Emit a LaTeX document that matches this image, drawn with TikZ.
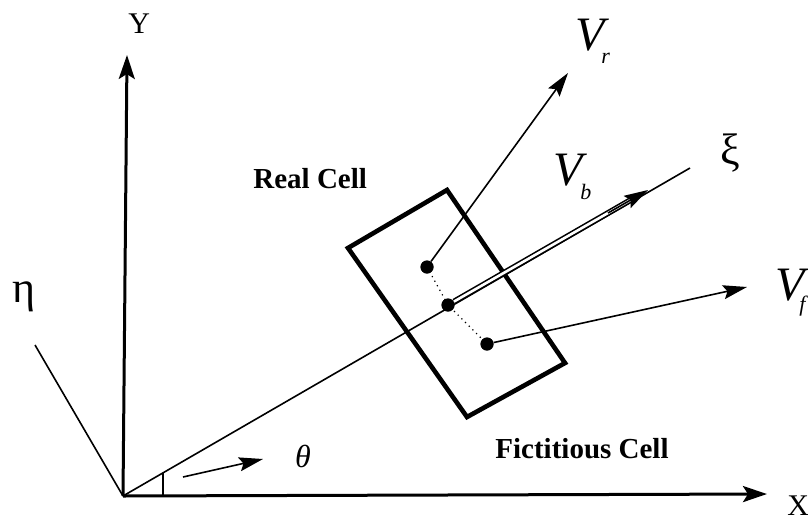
\documentclass[tikz,border=0pt]{standalone}
\usepackage{fontspec}
\setmainfont{Liberation Serif}
\usetikzlibrary{arrows.meta,calc}
\begin{document}
\begin{tikzpicture}[x=0.5pt,y=-0.5pt,
  axis/.style={line width=1.5pt,-{Stealth[length=12pt,width=8pt,inset=2.5pt]}},
  thinline/.style={line width=0.8pt},
  vec/.style={line width=0.8pt,-{Stealth[length=12pt,width=7pt,inset=2pt]}},
  cell/.style={line width=2.3pt,line join=miter},
  dot/.style={circle,fill,inner sep=0pt,minimum size=6.5pt},
  lab/.style={inner sep=0pt},
  bigv/.style={lab,anchor=base west,font=\fontsize{24}{24}\selectfont\itshape},
  sub/.style={lab,anchor=base west,font=\fontsize{11}{11}\selectfont\itshape},
  bold/.style={lab,anchor=base west,font=\fontsize{14.5}{14.5}\selectfont\bfseries},
  axlab/.style={lab,anchor=base west,font=\fontsize{15}{15}\selectfont},
  greek/.style={lab,font=\fontsize{22}{22}\selectfont}]
\useasboundingbox (0,0) rectangle (808,520);
% coordinates
\coordinate (O) at (123,496);
\coordinate (xt) at (767,494);
\coordinate (yt) at (127,55);
\coordinate (et) at (35,345);
\coordinate (xie) at (690,168);
\coordinate (tk1) at (163,473);
\coordinate (tk2) at (163,496);
\coordinate (th1) at (183,477);
\coordinate (th2) at (263,459);
\coordinate (vrt) at (568,73);
\coordinate (vbt) at (648,190);
\coordinate (vft) at (747,287);
% dots
\node[dot] (dr) at (427,267) {};
\node[dot] (dc) at (448,305) {};
\node[dot] (df) at (487,344) {};
% axes
\draw[axis] (O) -- (xt);
\draw[axis] (O) -- (yt);
\draw[thinline] (O) -- (et);
\draw[thinline] (O) -- (xie);
\draw[thinline] (tk1) -- (tk2);
\draw[vec] (th1) -- (th2);
% cell
\draw[cell] (348,248) -- (447,190) -- (565,363) -- (467,417) -- cycle;
% vectors
\draw[vec] (dr) -- (vrt);
\draw[vec] (df) -- (vft);
\draw[line width=0.6pt,dotted] (dr.center) -- (dc.center) -- (df.center);
\draw[line width=0.8pt,double=white,double distance=1.3pt,shorten >=7pt] (dc) -- (vbt);
\draw[vec] ($(dc)!0.8!(vbt)$) -- (vbt);
\node[dot] at (dr) {};
\node[dot] at (dc) {};
\node[dot] at (df) {};
% labels
\node[axlab] (lx) at (787,515) {X};
\node[axlab] (ly) at (128,33) {Y};
\node[greek] (leta) at (24,297) {η};
\node[greek] (lxi) at (730,153) {ξ};
\node[lab,font=\fontsize{16}{16}\selectfont\itshape] (lth) at (303,456) {θ};
\node[bigv] (vr) at (575,50) {V};
\node[sub] (vrs) at (601,63) {r};
\node[bigv] (vb) at (553,185) {V};
\node[sub] (vbs) at (580,199) {b};
\node[bigv] (vf) at (775,300) {V};
\node[sub] (vfs) at (799,311) {f};
\node[bold] (rc) at (253,188) {Real Cell};
\node[bold] (fc) at (495,458) {Fictitious Cell};
\end{tikzpicture}
\end{document}
